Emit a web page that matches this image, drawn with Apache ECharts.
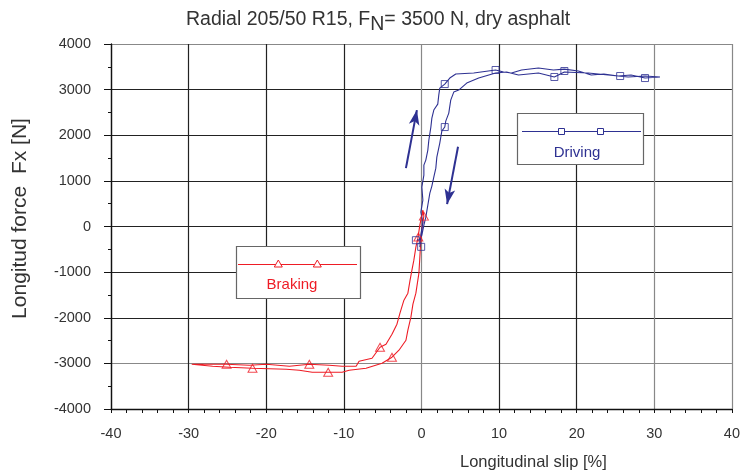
<!DOCTYPE html>
<html>
<head>
<meta charset="utf-8">
<script src="https://cdn.jsdelivr.net/npm/echarts@6/dist/echarts.min.js"></script>
<style>html,body{margin:0;padding:0;background:#fff}#c{width:743px;height:474px}</style>
</head>
<body>
<div id="c"></div>
<script>
// ---- data ----
const xTicks = [-40, -30, -20, -10, 0, 10, 20, 30, 40];
const yTicks = [-4000, -3000, -2000, -1000, 0, 1000, 2000, 3000, 4000];

// Driving (blue) hysteresis loop: slip [%], force [N]
const driveSlip = [-0.21,-0.08,0.18,-0.08,0.18,0.05,0.31,0.31,0.56,0.82,0.95,1.21,1.34,1.59,2.1,2.23,2.36,3.0,3.65,4.42,6.73,9.55,10.58,11.6,12.89,15.07,17.0,18.41,20.21,21.87,23.5,25.34,27.0,28.81,30.73,
  28.81,26.62,24.06,21.49,18.41,17.12,15.07,12.5,10.96,9.55,7.37,5.83,4.8,4.16,3.77,3.52,3.13,3.0,2.62,2.36,1.98,1.85,1.59,1.34,1.08,0.82,0.56,0.31,0.05,-0.33,-0.59];
const driveForce = [-453,-190,95,314,578,863,1126,1345,1455,1674,1893,2179,2376,2552,2683,2880,3034,3122,3254,3342,3364,3430,3386,3364,3429,3473,3430,3450,3408,3320,3342,3298,3320,3254,3276,
  3298,3276,3320,3364,3386,3277,3364,3320,3386,3364,3254,3144,2990,2946,2771,2486,2310,2180,2091,1828,1520,1279,1082,885,731,468,205,30,-190,-299,-299];
const driveMarkSlip = [3.0, 3.0, -0.72, -0.04, 9.55, 17.12, 18.41, 25.6, 28.8];
const driveMarkForce = [3122, 2180, -300, -446, 3430, 3277, 3408, 3298, 3254];

// Braking (red) hysteresis loop
const brakeSlip = [-29.6,-27.29,-25.11,-22.16,-19.97,-17.02,-14.45,-11.89,-10.22,-8.42,-8.04,-6.37,-5.34,-4.57,-3.8,-3.16,-2.77,-2.26,-1.75,-1.49,-1.23,-0.98,-0.72,-0.46,-0.21,0.18,
  0.31,0.05,-0.08,-0.21,-0.33,-0.72,-1.1,-1.36,-1.75,-2.0,-2.9,-3.8,-5.08,-7.14,-9.32,-10.22,-12.02,-14.07,-15.74,-17.41,-21.77,-24.72,-26.91,-29.6];
const brakeForce = [-3019,-3019,-3019,-3041,-3019,-3063,-3019,-3041,-3063,-3063,-2953,-2887,-2646,-2580,-2361,-2142,-1900,-1615,-1462,-1199,-958,-738,-453,-255,30,358,
  227,-36,-299,-672,-1023,-1462,-1703,-1988,-2273,-2493,-2712,-2865,-2997,-3107,-3151,-3195,-3195,-3195,-3151,-3129,-3107,-3085,-3063,-3019];
const brakeMarkSlip = [-25.11, -21.77, -14.45, -12.02, -5.34, -3.8, -0.4, 0.31];
const brakeMarkForce = [-3019, -3107, -3019, -3195, -2646, -2865, -230, 227];

// direction arrows: [fromSlip, fromForce, toSlip, toForce]
const arrows = [[-2.0, 1280, -0.59, 2552], [4.71, 1747, 3.30, 490]];

const BLUE = '#2e3192', RED = '#ee1c25';
const zip = (a, b) => a.map((v, i) => [v, b[i]]);

const chart = echarts.init(document.getElementById('c'), null, {renderer: 'canvas'});
const option = {
  animation: false,
  backgroundColor: '#fff',
  grid: {left: 111, right: 9, top: 44, bottom: 65},
  xAxis: {
    type: 'value', min: xTicks[0], max: xTicks[xTicks.length - 1], interval: 10,
    axisLine: {onZero: false, lineStyle: {color: '#111', width: 1.3}},
    axisTick: {show: true, length: 4, lineStyle: {color: '#111'}},
    minorTick: {show: true, splitNumber: 5, length: 4, lineStyle: {color: '#111'}},
    axisLabel: {fontSize: 14.5, color: '#333', margin: 17, fontFamily: 'Liberation Sans', formatter: v => String(v)},
    splitLine: {show: true, lineStyle: {width: 1.2, color: ['#222','#222','#222','#222','#888','#222','#222','#888','#888']}}
  },
  yAxis: {
    type: 'value', min: yTicks[0], max: yTicks[yTicks.length - 1], interval: 1000,
    name: 'Longitud force  Fx [N]', nameLocation: 'middle', nameGap: 80, nameRotate: 90,
    nameTextStyle: {fontSize: 21, color: '#333', fontFamily: 'Liberation Sans', padding: [0, 0, 0, 16]},
    axisLine: {onZero: false, lineStyle: {color: '#111', width: 1.3}},
    axisTick: {show: true, length: 7, lineStyle: {color: '#111'}},
    minorTick: {show: true, splitNumber: 2, length: 3, lineStyle: {color: '#111'}},
    axisLabel: {fontSize: 14.5, color: '#333', margin: 20, fontFamily: 'Liberation Sans', formatter: v => String(v)},
    splitLine: {show: true, lineStyle: {width: 1.2, color: ['#222','#888','#222','#222','#222','#222','#222','#222','#888']}}
  },
  series: [
    {type: 'line', data: zip(brakeSlip, brakeForce), symbol: 'none', lineStyle: {color: RED, width: 1.1}, z: 3},
    {type: 'line', data: zip(driveSlip, driveForce), symbol: 'none', lineStyle: {color: BLUE, width: 1.1}, z: 4,
      markLine: {
        silent: true, symbol: ['none', 'arrow'], symbolSize: [8, 15], label: {show: false},
        lineStyle: {color: BLUE, width: 2, type: 'solid'},
        data: arrows.map(a => [{coord: [a[0], a[1]]}, {coord: [a[2], a[3]]}])
      }},
    {type: 'scatter', data: zip(brakeMarkSlip, brakeMarkForce), symbol: 'triangle', symbolSize: [9, 8],
      itemStyle: {color: 'rgba(255,255,255,0)', borderColor: RED, borderWidth: 1}, z: 5},
    {type: 'scatter', data: zip(driveMarkSlip, driveMarkForce), symbol: 'rect', symbolSize: 7,
      itemStyle: {color: 'rgba(255,255,255,0)', borderColor: BLUE, borderWidth: 1}, z: 6}
  ],
  graphic: [
    {type: 'text', x: 186, y: 5, z: 10, style: {
      text: '{a|Radial 205/50 R15, F}{s|N}{a|= 3500 N, dry asphalt}',
      rich: {a: {fontSize: 19.5, fill: '#333', fontFamily: 'Liberation Sans'}, s: {fontSize: 19.5, fill: '#333', fontFamily: 'Liberation Sans', padding: [10, 0, 0, 0]}}
    }},
    {type: 'text', x: 460, y: 454, z: 10, style: {text: 'Longitudinal slip [%]', fontSize: 16.5, fill: '#333', fontFamily: 'Liberation Sans'}},
    // Driving legend
    {type: 'rect', shape: {x: 517.5, y: 113.5, width: 126, height: 51}, style: {fill: '#fff', stroke: '#666', lineWidth: 1.2}, z: 20},
    {type: 'line', shape: {x1: 522, y1: 131.5, x2: 641, y2: 131.5}, style: {stroke: BLUE, lineWidth: 1.2}, z: 21},
    {type: 'rect', shape: {x: 558.5, y: 128.5, width: 6, height: 6}, style: {fill: '#fff', stroke: BLUE, lineWidth: 1}, z: 22},
    {type: 'rect', shape: {x: 597.5, y: 128.5, width: 6, height: 6}, style: {fill: '#fff', stroke: BLUE, lineWidth: 1}, z: 22},
    {type: 'text', x: 577, y: 153, z: 22, style: {text: 'Driving', fontSize: 15, fill: BLUE, fontFamily: 'Liberation Sans', align: 'center', verticalAlign: 'middle'}},
    // Braking legend
    {type: 'rect', shape: {x: 236.5, y: 246.5, width: 124, height: 52}, style: {fill: '#fff', stroke: '#666', lineWidth: 1.2}, z: 20},
    {type: 'line', shape: {x1: 238, y1: 264.5, x2: 357, y2: 264.5}, style: {stroke: RED, lineWidth: 1.2}, z: 21},
    {type: 'polygon', shape: {points: [[278.3, 260], [282.3, 267], [274.3, 267]]}, style: {fill: '#fff', stroke: RED, lineWidth: 1}, z: 22},
    {type: 'polygon', shape: {points: [[317.3, 260], [321.3, 267], [313.3, 267]]}, style: {fill: '#fff', stroke: RED, lineWidth: 1}, z: 22},
    {type: 'text', x: 292, y: 285, z: 22, style: {text: 'Braking', fontSize: 15, fill: RED, fontFamily: 'Liberation Sans', align: 'center', verticalAlign: 'middle'}}
  ]
};
chart.setOption(option);
</script>
</body>
</html>
